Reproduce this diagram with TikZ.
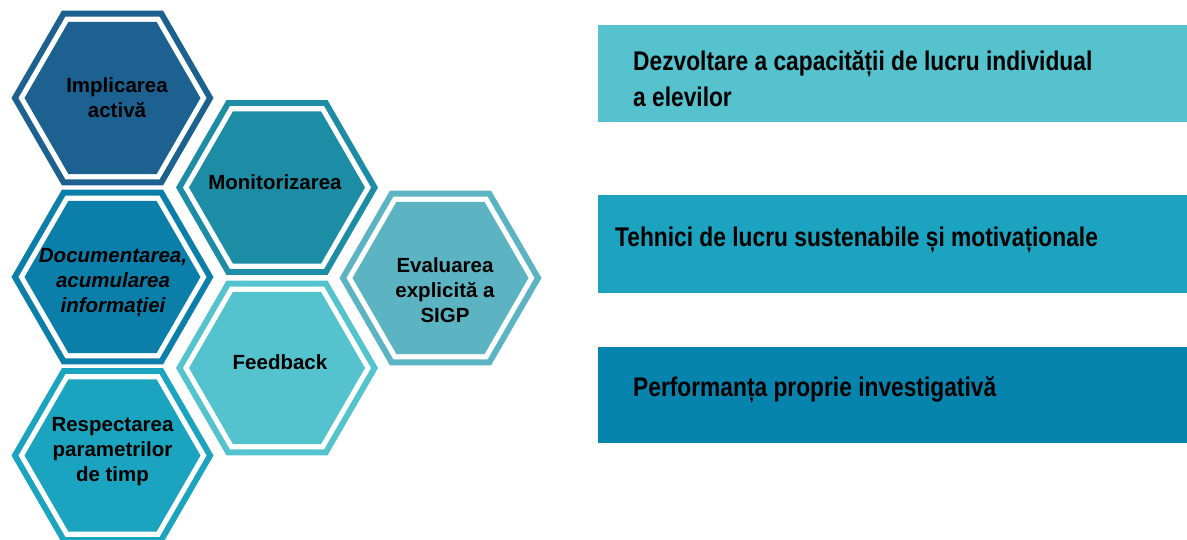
\documentclass[tikz,border=0pt]{standalone}
\usepackage{fontspec}
\setmainfont{Liberation Sans}
\definecolor{cImpl}{HTML}{1D6190}
\definecolor{cMon}{HTML}{1D8DA6}
\definecolor{cDoc}{HTML}{0B7FAA}
\definecolor{cFeed}{HTML}{55C3CE}
\definecolor{cEval}{HTML}{5CB4C3}
\definecolor{cResp}{HTML}{1AA4BF}
\definecolor{cRa}{HTML}{55C2CE}
\definecolor{cRb}{HTML}{1BA3BF}
\definecolor{cRc}{HTML}{0784AE}
\newcommand\hexcell[3]{%
  \begin{scope}[shift={(#1,#2)}]
    \fill[#3] (0:101) -- (60:101) -- (120:101) -- (180:101) -- (240:101) -- (300:101) -- cycle;
    \fill[white] (0:94) -- (60:94) -- (120:94) -- (180:94) -- (240:94) -- (300:94) -- cycle;
    \fill[#3] (0:88) -- (60:88) -- (120:88) -- (180:88) -- (240:88) -- (300:88) -- cycle;
  \end{scope}}
\tikzset{
  hextext/.style={align=center, inner sep=0pt, font=\bfseries\fontsize{20.5}{25}\selectfont},
  recttext/.style={anchor=west, align=left, inner sep=0pt, xscale=0.843, font=\bfseries\fontsize{27}{36}\selectfont},
}
\begin{document}
\begin{tikzpicture}[x=1pt,y=-1pt]
\useasboundingbox (0,0) rectangle (1187,539);
% hexagons
\hexcell{112.5}{98}{cImpl}
\hexcell{112.5}{277}{cDoc}
\hexcell{112.5}{455.5}{cResp}
\hexcell{277}{187.5}{cMon}
\hexcell{277}{368}{cFeed}
\hexcell{440.5}{278}{cEval}
\node[hextext] (impl) at (117,98) {Implicarea\\activă};
\node[hextext] (mon) at (275,182) {Monitorizarea};
\node[hextext, font=\bfseries\itshape\fontsize{20.5}{25}\selectfont] (doc) at (113,283) {Documentarea,\\acumularea\\informației};
\node[hextext] (feed) at (280,362) {Feedback};
\node[hextext] (eval) at (445,290) {Evaluarea\\explicită a\\SIGP};
\node[hextext] (resp) at (112.5,452) {Respectarea\\parametrilor\\de timp};
% rectangles
\fill[cRa] (598,25) rectangle (1187,122);
\fill[cRb] (598,195) rectangle (1187,293);
\fill[cRc] (598,347) rectangle (1187,443);
\node[recttext] (ra) at (633,78.5) {Dezvoltare a capacității de lucru individual\\a elevilor};
\node[recttext] (rb) at (615,240) {Tehnici de lucru sustenabile și motivaționale};
\node[recttext] (rc) at (633,390) {Performanța proprie investigativă};
\end{tikzpicture}
\end{document}
